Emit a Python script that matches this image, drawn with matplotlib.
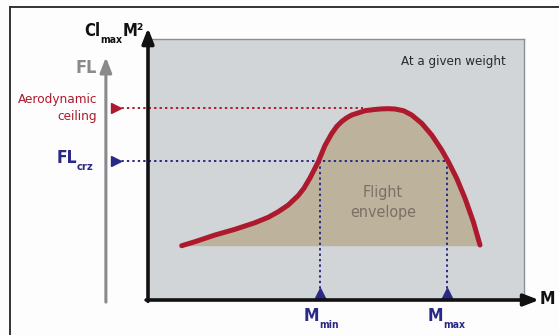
import matplotlib
matplotlib.use("Agg")
import matplotlib.pyplot as plt
from matplotlib.lines import Line2D

# ---- data (conceptual flight envelope) ----
mach = [0.896, 1.250, 1.782, 2.314, 2.846, 3.199, 3.465, 3.731, 3.997, 4.149,
        4.309, 4.529, 4.707, 4.886, 5.019, 5.152, 5.285, 5.418, 5.771, 6.030,
        6.215, 6.383, 6.569, 6.800, 7.013, 7.279, 7.545, 7.811, 7.987, 8.210,
        8.431, 8.652, 8.830]
clm2 = [2.080, 2.234, 2.490, 2.709, 2.962, 3.169, 3.383, 3.640, 4.004, 4.287,
        4.678, 5.299, 5.920, 6.379, 6.648, 6.839, 6.981, 7.088, 7.253, 7.300,
        7.322, 7.330, 7.318, 7.250, 7.088, 6.770, 6.322, 5.747, 5.299, 4.663,
        3.897, 3.000, 2.107]
envelope_floor = 2.08
fl_crz = 5.32
ceiling = 7.34
ceiling_end = 5.72
m_min = 4.57
m_max = 7.95

RED = "#ad1a2e"
BLUE = "#2a2a86"
PANEL = "#d1d5d7"
TAN = "#bdb29c"
GRAY_AX = "#8a8a8a"
TXT_ENV = "#7a7064"

plt.rcParams["font.family"] = ["DejaVu Sans"]
plt.rcParams["font.stretch"] = "condensed"

W, H = 559, 335
fig = plt.figure(figsize=(W / 100, H / 100), dpi=100)
fig.patch.set_facecolor("#fdfdfd")

def fx(px):
    return px / W

def fy(py):
    return 1 - py / H

# panel axes
L, R, T, B = 148, 524, 39, 300
ax = fig.add_axes([fx(L), fy(B), (R - L) / W, (B - T) / H])
ax.set_xlim(0, 10)
ax.set_ylim(0, 10)
ax.set_facecolor(PANEL)
ax.set_xticks([])
ax.set_yticks([])
for s in ("top", "right"):
    ax.spines[s].set_color("#8c9093")
    ax.spines[s].set_linewidth(1.0)
for s in ("left", "bottom"):
    ax.spines[s].set_visible(False)

# envelope fill and curve
ax.fill_between(mach, clm2, envelope_floor, color=TAN, lw=0, zorder=1)
ax.plot(mach, clm2, color=RED, lw=3.6, solid_capstyle="round",
        solid_joinstyle="round", zorder=3)

# dotted guide lines
dot = dict(lw=1.4, linestyle=(0, (1.2, 1.6)), clip_on=False, zorder=2)
fl_x = -1.12
ax.plot([-0.85, ceiling_end], [ceiling, ceiling], color=RED, **dot)
ax.plot([-0.85, m_max], [fl_crz, fl_crz], color=BLUE, **dot)
ax.plot([m_min, m_min], [fl_crz, 0.35], color=BLUE, **dot)
ax.plot([m_max, m_max], [fl_crz, 0.35], color=BLUE, **dot)
# triangle markers
ax.plot([-0.85], [ceiling], marker=">", color=RED, ms=7, clip_on=False, zorder=4)
ax.plot([-0.85], [fl_crz], marker=">", color=BLUE, ms=7, clip_on=False, zorder=4)
ax.plot([m_min, m_max], [0.28, 0.28], marker="^", ls="none", color=BLUE,
        ms=7, clip_on=False, zorder=4)

# black axes with arrows
arrow_k = dict(arrowstyle="-|>,head_length=0.9,head_width=0.35", color="#111111",
               lw=2.6, shrinkA=0, shrinkB=0)
ax.annotate("", xy=(0, 10.42), xytext=(0, -0.05), xycoords="data",
            arrowprops=arrow_k, annotation_clip=False, zorder=5)
ax.annotate("", xy=(10.4, 0), xytext=(-0.05, 0), xycoords="data",
            arrowprops=arrow_k, annotation_clip=False, zorder=5)
# gray FL axis
arrow_g = dict(arrowstyle="-|>,head_length=0.9,head_width=0.35", color=GRAY_AX,
               lw=2.2, shrinkA=0, shrinkB=0)
ax.annotate("", xy=(fl_x, 9.3), xytext=(fl_x, -0.08), xycoords="data",
            arrowprops=arrow_g, annotation_clip=False, zorder=5)

# outer frame lines (top and left)
fig.add_artist(Line2D([fx(9.5), 1], [fy(7), fy(7)], color="#333333", lw=1.4))
fig.add_artist(Line2D([fx(9.5), fx(9.5)], [fy(7), 0], color="#333333", lw=1.4))

# texts
def t(px, py, s, **kw):
    fig.text(fx(px), fy(py), s, **kw)

t(100, 36, "Cl", ha="right", va="baseline", fontsize=12, fontweight="bold", color="#111111")
t(100, 43, "max", ha="left", va="baseline", fontsize=7.5, fontweight="bold", color="#111111")
t(123, 36, "M²", ha="left", va="baseline", fontsize=12, fontweight="bold", color="#111111")

t(97, 68, "FL", ha="right", va="center", fontsize=13, fontweight="bold", color=GRAY_AX)

t(97, 100, "Aerodynamic", ha="right", va="center", fontsize=9.7, color=RED)
t(97, 117, "ceiling", ha="right", va="center", fontsize=9.7, color=RED)

t(77, 163, "FL", ha="right", va="baseline", fontsize=12.5, fontweight="bold", color=BLUE)
t(77, 170, "crz", ha="left", va="baseline", fontsize=8, fontweight="bold", color=BLUE)

t(319, 321, "M", ha="right", va="baseline", fontsize=12.5, fontweight="bold", color=BLUE)
t(319, 328, "min", ha="left", va="baseline", fontsize=7.5, fontweight="bold", color=BLUE)
t(443, 321, "M", ha="right", va="baseline", fontsize=12.5, fontweight="bold", color=BLUE)
t(443, 328, "max", ha="left", va="baseline", fontsize=7.5, fontweight="bold", color=BLUE)

t(540, 299, "M", ha="left", va="center", fontsize=12.5, fontweight="bold", color="#111111")

t(506, 62, "At a given weight", ha="right", va="center", fontsize=9.5, color="#2a2a2a")
t(383, 193, "Flight", ha="center", va="center", fontsize=11.5, color=TXT_ENV)
t(383, 212, "envelope", ha="center", va="center", fontsize=11.5, color=TXT_ENV)

fig.savefig("out.png", dpi=100, facecolor=fig.get_facecolor())
